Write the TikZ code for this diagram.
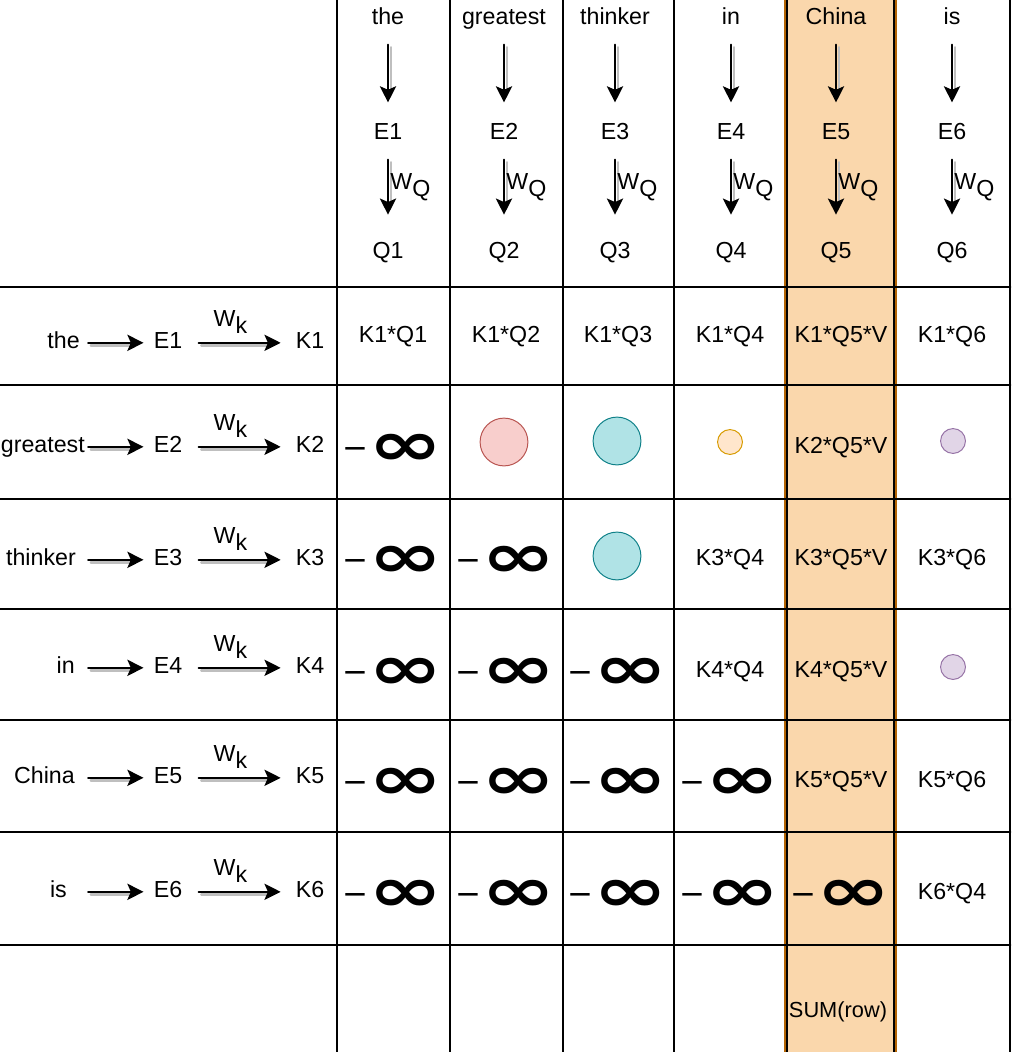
\documentclass[tikz,border=0pt]{standalone}
\usepackage{graphicx}
\usepackage{fontspec}
\setmainfont{Liberation Sans}
\newfontfamily\dejavu{DejaVu Sans}
\usetikzlibrary{arrows.meta}

\definecolor{hiFill}{HTML}{FAD7AC}
\definecolor{hiLine}{HTML}{B46504}
\definecolor{pinkFill}{HTML}{F8CECC}
\definecolor{pinkLine}{HTML}{B85450}
\definecolor{tealFill}{HTML}{B0E3E6}
\definecolor{tealLine}{HTML}{0E8088}
\definecolor{peachFill}{HTML}{FFE6CC}
\definecolor{peachLine}{HTML}{D79B00}
\definecolor{lilacFill}{HTML}{E1D5E7}
\definecolor{lilacLine}{HTML}{9673A6}

% Masked entry: thin minus and a heavy infinity sign.
\newcommand{\negInf}{\raisebox{4.8pt}{\dejavu\fontsize{22}{22}\selectfont −}\scalebox{1.27}[0.88]{\dejavu\bfseries\fontsize{50}{50}\selectfont ∞}}

\begin{document}
\begin{tikzpicture}[x=0.025cm, y=-0.025cm, line cap=round, line join=round,
    every node/.style={font=\fontsize{16.5}{19.8}\selectfont},
    lbl/.style={text height=11.8pt, text depth=0pt, inner ysep=0pt},
    hd/.style={lbl, inner xsep=2pt, inner ysep=14.2pt},
    qd/.style={hd, inner ysep=19pt},
    arr/.style={-{Stealth[length=11.5pt,width=11.5pt,inset=2.5pt]}, line width=1.4pt,
      preaction={draw=gray!50, -, line width=1.5pt,
        transform canvas={xshift=1.9pt,yshift=-1.9pt}, shorten >=10pt}},
    grid/.style={line width=1.9pt},
    dot/.style={circle, draw, line width=0.7pt, inner sep=0pt}]
  \useasboundingbox (0,0) rectangle (1012,1052);

  % Column and row centres of the score table.
  \foreach \x [count=\i] in {393,506,618,730,841,952}
    \coordinate (col\i) at (\x,0);
  \foreach \y [count=\i] in {334,445,557,669,779,891}
    \coordinate (row\i) at (0,\y);

  % Highlighted query column.
  \fill[hiFill] (785,0) rectangle (896,1052);
  \draw[hiLine, line width=0.8pt] (785,0) -- (785,1052) (896,0) -- (896,1052);

  % Table rules.
  \foreach \y in {287,385,499,609,720,832,945}
    \draw[grid] (0,\y) -- (1010,\y);
  \foreach \x in {337,450,563,674,787,894,1010}
    \draw[grid] (\x,0) -- (\x,1052);

  % Queries along the top: word -> embedding -> query.
  \foreach \w/\x [count=\i] in {the/388, greatest/504, thinker/615, in/731, China/836, is/952} {
    \node[hd] (t\i) at (\x,16) {\w};
    \node[hd] (e\i) at (\x,131) {E\i};
    \node[qd] (q\i) at (\x,250) {Q\i};
    \draw[arr] (t\i) -- (e\i);
    \draw[arr] (e\i) -- (q\i) node[midway, right, inner sep=1pt] {W\raisebox{-5pt}{Q}};
  }

  % Keys down the left: word -> embedding -> key.
  \foreach \w/\r/\y [count=\i] in {the/80/340, greatest/85/444, thinker/76/557, in/75/665, China/75/775, is/67/889} {
    \pgfmathsetmacro\wsep{(88-\r)*0.7087}
    \node[lbl, anchor=east, inner xsep=\wsep pt] (w\i) at (88,\y) {\w};
    \node[lbl, inner xsep=7.1pt] (re\i) at (168,\y) {E\i};
    \node[lbl, inner xsep=10.6pt] (k\i) at (310,\y) {K\i};
    \draw[arr] ([yshift=-2pt]w\i.east) -- ([yshift=-2pt]re\i.west);
    \draw[arr, shorten <=4.3pt] ([yshift=-2pt]re\i.east) -- ([yshift=-2pt]k\i.west)
      node[midway, above=5pt, xshift=-4.3pt, inner sep=1pt] {W\raisebox{-5pt}{k}};
  }

  % Score entries.
  \foreach \c/\r/\t in {1/1/K1*Q1, 2/1/K1*Q2, 3/1/K1*Q3, 4/1/K1*Q4, 5/1/K1*Q5*V, 6/1/K1*Q6,
      5/2/K2*Q5*V, 4/3/K3*Q4, 5/3/K3*Q5*V, 6/3/K3*Q6, 4/4/K4*Q4, 5/4/K4*Q5*V,
      5/5/K5*Q5*V, 6/5/K5*Q6, 6/6/K6*Q4}
    \node[lbl] (s\r\c) at (col\c |- row\r) {\t};

  % Masked entries below the diagonal.
  \foreach \r in {2,...,6} {
    \pgfmathtruncatemacro\last{\r-1}
    \foreach \c in {1,...,\last}
      \node[anchor=base, inner sep=0pt] (s\r\c) at ([yshift=-14.5pt]col\c |- row\r) {\negInf};
  }

  % Circles standing in for scores.
  \node[dot, minimum size=34pt, fill=pinkFill, draw=pinkLine] (s22) at (504,442) {};
  \node[dot, minimum size=34pt, fill=tealFill, draw=tealLine] (s23) at (617,441) {};
  \node[dot, minimum size=34pt, fill=tealFill, draw=tealLine] (s33) at (617,556) {};
  \node[dot, minimum size=17.7pt, fill=peachFill, draw=peachLine] (s24) at (730,442) {};
  \node[dot, minimum size=17.7pt, fill=lilacFill, draw=lilacLine] (s26) at (953,441) {};
  \node[dot, minimum size=17.7pt, fill=lilacFill, draw=lilacLine] (s46) at (953,667) {};

  \node[font=\fontsize{15.5}{18}\selectfont] (sum) at (838,1012) {SUM(row)};
\end{tikzpicture}
\end{document}
